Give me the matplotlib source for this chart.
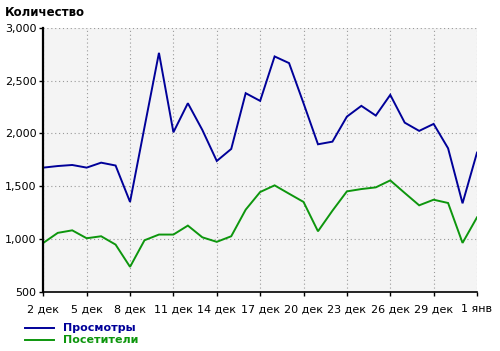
import numpy as np
import matplotlib.pyplot as plt
from matplotlib.ticker import FuncFormatter

# daily values, 2 dec .. 1 jan
views = [1675, 1690, 1700, 1675, 1722, 1695, 1350, 2058, 2762, 2010,
         2285, 2032, 1738, 1852, 2380, 2307, 2728, 2665, 2285, 1896,
         1921, 2158, 2260, 2168, 2364, 2101, 2023, 2089, 1858, 1337,
         1817]
visitors = [962, 1057, 1081, 1006, 1025, 946, 735, 987, 1041, 1041,
            1126, 1015, 972, 1025, 1277, 1444, 1507, 1428, 1350, 1072,
            1267, 1450, 1472, 1488, 1554, 1435, 1318, 1371, 1340, 962,
            1204]
tick_labels = ["2 дек", "5 дек", "8 дек", "11 дек", "14 дек", "17 дек",
               "20 дек", "23 дек", "26 дек", "29 дек", "1 янв"]
series_names = ["Просмотры", "Посетители"]

blue = "#000099"
green = "#0d960d"
days = np.arange(len(views))

fig = plt.figure(figsize=(5.0, 3.51), dpi=100)
ax = fig.add_axes([0.0866, 0.169, 0.8674, 0.752])
ax.set_facecolor("#f4f4f4")

ax.plot(days, views, color=blue, lw=1.4, solid_joinstyle="miter")
ax.plot(days, visitors, color=green, lw=1.4, solid_joinstyle="miter")

ax.set_xlim(0, 30)
ax.set_ylim(500, 3000)
ax.set_xticks(days[::3])
ax.set_xticklabels(tick_labels)
ax.set_yticks(np.arange(500, 3001, 500))
ax.yaxis.set_major_formatter(FuncFormatter(lambda v, p: f"{int(v):,}"))

ax.grid(True, color="#999999", linestyle=(0, (1, 2.5)), lw=0.8)
for s in ["top", "right"]:
    ax.spines[s].set_visible(False)
ax.spines["left"].set_linewidth(1.6)
ax.spines["bottom"].set_linewidth(1.2)
ax.tick_params(axis="both", labelsize=8, length=3, width=1, color="black")
ax.tick_params(axis="x", pad=6)
ax.tick_params(axis="y", pad=2)

fig.text(0.01, 0.965, "Количество", fontsize=8.5, fontweight="bold", va="center")

# legend drawn below the axes
for i, (name, col) in enumerate(zip(series_names, [blue, green])):
    y = 0.066 - i * 0.036
    fig.add_artist(plt.Line2D([0.05, 0.107], [y, y], color=col, lw=1.4))
    fig.text(0.125, y, name, color=col, fontsize=8, fontweight="bold", va="center")

fig.savefig("out.png", dpi=100)
